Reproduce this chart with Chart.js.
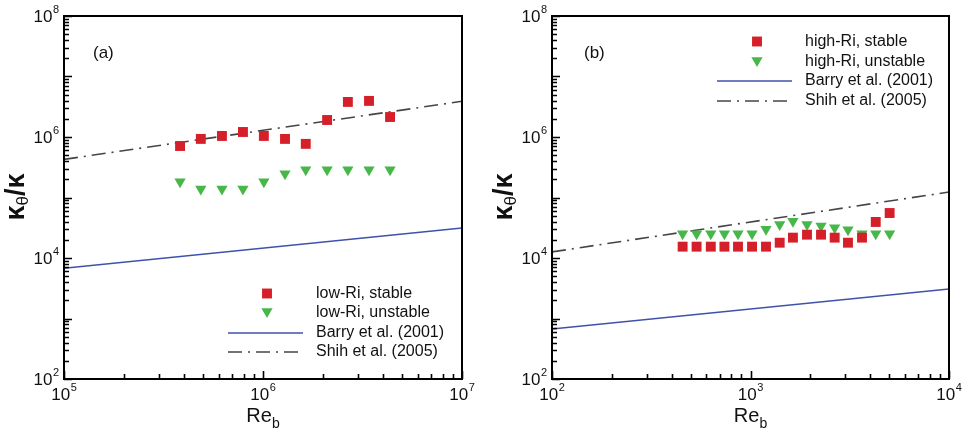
<!DOCTYPE html>
<html><head><meta charset="utf-8">
<script src="https://cdn.jsdelivr.net/npm/chart.js@4/dist/chart.umd.min.js"></script>
<style>
body{margin:0;background:#fff;width:968px;height:437px;overflow:hidden;position:relative}
.w{position:absolute;top:0;width:484px;height:437px}
canvas{display:block}
</style></head><body>
<div class="w" style="left:0"><canvas id="ca" width="484" height="437"></canvas></div>
<div class="w" style="left:484px"><canvas id="cb" width="484" height="437"></canvas></div>
<script>
// ---- data: panel (a) ----
const reA = [3.83e5, 4.87e5, 6.22e5, 7.93e5, 1.01e6, 1.29e6, 1.64e6, 2.10e6, 2.67e6, 3.41e6, 4.35e6];
const stableA = [7.1e5, 9.3e5, 1.04e6, 1.21e6, 1.04e6, 9.3e5, 7.7e5, 1.91e6, 3.8e6, 3.95e6, 2.14e6];
const unstableA = [1.82e5, 1.38e5, 1.38e5, 1.38e5, 1.82e5, 2.47e5, 2.88e5, 2.88e5, 2.88e5, 2.88e5, 2.88e5];
const lineReA = [1e5, 1e7];
const barryA = [6.76e3, 3.13e4];
const shihA = [4.27e5, 3.89e6];
// ---- data: panel (b) ----
const reB = [455, 535, 631, 739, 865, 1018, 1197, 1403, 1636, 1926, 2266, 2655, 3098, 3646, 4275, 5023];
const stableB = [1.54e4, 1.54e4, 1.54e4, 1.54e4, 1.54e4, 1.54e4, 1.54e4, 1.79e4, 2.17e4, 2.43e4, 2.43e4, 2.17e4, 1.79e4, 2.17e4, 3.94e4, 5.54e4];
const unstableB = [2.52e4, 2.52e4, 2.52e4, 2.52e4, 2.52e4, 2.52e4, 3.0e4, 3.59e4, 4.06e4, 3.59e4, 3.37e4, 3.16e4, 2.93e4, 2.52e4, 2.52e4, 2.52e4];
const lineReB = [1e2, 1e4];
const barryB = [670, 3.08e3];
const shihB = [1.26e4, 1.23e5];
// ---- ticks / labels ----
const yExpRange = [2, 8];
const yLabelExps = [2, 4, 6, 8];
const xExpRangeA = [5, 7];
const xLabelExpsA = [5, 6, 7];
const xExpRangeB = [2, 4];
const xLabelExpsB = [2, 3, 4];
const legendA = ['low-Ri, stable', 'low-Ri, unstable', 'Barry et al. (2001)', 'Shih et al. (2005)'];
const legendB = ['high-Ri, stable', 'high-Ri, unstable', 'Barry et al. (2001)', 'Shih et al. (2005)'];

const RED = '#d5202a', GREEN = '#48b74a', BLUE = '#3f51aa', GRAY = '#454545';
const FONT = '"Liberation Sans", Arial, sans-serif';
const SHIH_DASH = [14, 6, 2, 6];

function pts(xs, ys) { return xs.map((x, i) => ({x: x, y: ys[i]})); }

function decoPlugin(cfg) {
  return {
    id: 'deco',
    afterDraw(chart) {
      const ctx = chart.ctx, a = chart.chartArea, xs = chart.scales.x, ys = chart.scales.y;
      ctx.save();
      // box
      ctx.strokeStyle = '#000';
      ctx.lineWidth = 2;
      ctx.strokeRect(a.left, a.top, a.right - a.left, a.bottom - a.top);
      // y ticks
      ctx.lineWidth = 1.6;
      ctx.beginPath();
      for (let e = yExpRange[0]; e <= yExpRange[1]; e++) {
        for (let m = 1; m < 10; m++) {
          if (e === yExpRange[1] && m > 1) break;
          const p = Math.round(ys.getPixelForValue(m * Math.pow(10, e))) + 0.5;
          const len = m === 1 ? 8 : 5;
          ctx.moveTo(a.left, p); ctx.lineTo(a.left + len, p);
        }
      }
      // x ticks
      for (let e = cfg.xRange[0]; e <= cfg.xRange[1]; e++) {
        for (let m = 1; m < 10; m++) {
          if (e === cfg.xRange[1] && m > 1) break;
          const p = Math.round(xs.getPixelForValue(m * Math.pow(10, e))) + 0.5;
          const len = m === 1 ? 8 : 5;
          ctx.moveTo(p, a.bottom); ctx.lineTo(p, a.bottom - len);
        }
      }
      ctx.stroke();
      // tick labels
      ctx.fillStyle = '#111';
      ctx.textBaseline = 'middle';
      const big = '17px ' + FONT, small = '11px ' + FONT;
      function lab(exp, x, y, align) {
        ctx.font = big; const w1 = ctx.measureText('10').width;
        ctx.font = small; const w2 = ctx.measureText(String(exp)).width;
        let x0 = align === 'right' ? x - w1 - w2 - 0.5 : x - (w1 + w2 + 0.5) / 2;
        ctx.textAlign = 'left';
        ctx.font = big; ctx.fillText('10', x0, y);
        ctx.font = small; ctx.fillText(String(exp), x0 + w1 + 0.5, y - 7);
      }
      yLabelExps.forEach(e => lab(e, a.left - 5, ys.getPixelForValue(Math.pow(10, e)) + 1, 'right'));
      cfg.xLabels.forEach(e => lab(e, xs.getPixelForValue(Math.pow(10, e)), a.bottom + 16, 'center'));
      // x title Re_b
      ctx.textBaseline = 'alphabetic';
      ctx.font = '20px ' + FONT; const wRe = ctx.measureText('Re').width;
      ctx.font = '14px ' + FONT; const wb = ctx.measureText('b').width;
      const cx = (a.left + a.right) / 2, tx = cx - (wRe + wb) / 2;
      ctx.font = '20px ' + FONT; ctx.fillText('Re', tx, 422);
      ctx.font = '14px ' + FONT; ctx.fillText('b', tx + wRe, 428);
      // y title kappa_theta / kappa
      ctx.save();
      ctx.translate(a.left - 40, 197);
      ctx.rotate(-Math.PI / 2);
      const fk = 'bold 27px ' + FONT, fs = '17px ' + FONT;
      ctx.font = fk; const wk = ctx.measureText('\u03ba').width; const ws2 = ctx.measureText('/\u03ba').width;
      ctx.font = fs; const wt = ctx.measureText('\u03b8').width;
      let sx = -(wk + wt + ws2) / 2;
      ctx.font = fk; ctx.fillText('\u03ba', sx, 0);
      ctx.font = fs; ctx.fillText('\u03b8', sx + wk, 4);
      ctx.font = fk; ctx.fillText('/\u03ba', sx + wk + wt, 0);
      ctx.restore();
      // panel label
      ctx.font = '17px ' + FONT; ctx.textBaseline = 'middle'; ctx.textAlign = 'left';
      ctx.fillText(cfg.panel, cfg.panelX, 53);
      // legend
      const L = cfg.legend;
      ctx.font = '16px ' + FONT;
      for (let i = 0; i < 4; i++) {
        const y = L.rows[i];
        ctx.fillStyle = '#111';
        ctx.fillText(cfg.legendText[i], L.textX, y);
        if (i === 0) {
          ctx.fillStyle = RED;
          Chart.helpers.drawPoint(ctx, {pointStyle: 'rect', radius: 7, rotation: 0, borderWidth: 0}, L.markX, y);
        } else if (i === 1) {
          ctx.fillStyle = GREEN;
          Chart.helpers.drawPoint(ctx, {pointStyle: 'triangle', radius: 6.5, rotation: 180, borderWidth: 0}, L.markX, y - 1.6);
        } else {
          ctx.strokeStyle = i === 2 ? BLUE : GRAY;
          ctx.lineWidth = 1.6;
          ctx.setLineDash(i === 2 ? [] : SHIH_DASH);
          ctx.beginPath(); ctx.moveTo(L.lineX[0], y); ctx.lineTo(L.lineX[1], y); ctx.stroke();
          ctx.setLineDash([]);
        }
      }
      ctx.restore();
    }
  };
}

function makeChart(id, d) {
  return new Chart(document.getElementById(id), {
    type: 'scatter',
    data: {
      datasets: [
        {data: pts(d.re, d.stable), pointStyle: 'rect', pointRadius: 7, pointHoverRadius: 7,
         backgroundColor: RED, borderWidth: 0, showLine: false},
        {data: pts(d.re, d.unstable), pointStyle: 'triangle', rotation: 180, pointRadius: 6.5, pointHoverRadius: 6.5,
         backgroundColor: GREEN, borderWidth: 0, showLine: false},
        {type: 'line', data: pts(d.lineRe, d.barry), borderColor: BLUE, borderWidth: 1.6, pointRadius: 0, fill: false},
        {type: 'line', data: pts(d.lineRe, d.shih), borderColor: GRAY, borderWidth: 1.6, borderDash: SHIH_DASH, pointRadius: 0, fill: false}
      ]
    },
    options: {
      responsive: false, animation: false, events: [],
      layout: {padding: d.pad},
      plugins: {legend: {display: false}, tooltip: {enabled: false}},
      scales: {
        x: {type: 'logarithmic', min: Math.pow(10, d.xRange[0]), max: Math.pow(10, d.xRange[1]), display: false},
        y: {type: 'logarithmic', min: Math.pow(10, yExpRange[0]), max: Math.pow(10, yExpRange[1]), display: false}
      }
    },
    plugins: [decoPlugin(d)]
  });
}

makeChart('ca', {
  re: reA, stable: stableA, unstable: unstableA, lineRe: lineReA, barry: barryA, shih: shihA,
  xRange: xExpRangeA, xLabels: xLabelExpsA, pad: {left: 64, right: 22, top: 16, bottom: 58},
  panel: '(a)', panelX: 93, legendText: legendA,
  legend: {rows: [293.5, 313, 333, 352], markX: 267, lineX: [228, 303], textX: 316}
});
makeChart('cb', {
  re: reB, stable: stableB, unstable: unstableB, lineRe: lineReB, barry: barryB, shih: shihB,
  xRange: xExpRangeB, xLabels: xLabelExpsB, pad: {left: 68, right: 19, top: 16, bottom: 58},
  panel: '(b)', panelX: 100, legendText: legendB,
  legend: {rows: [41.5, 62, 81, 101], markX: 273, lineX: [233, 308], textX: 321}
});
</script>
</body></html>
